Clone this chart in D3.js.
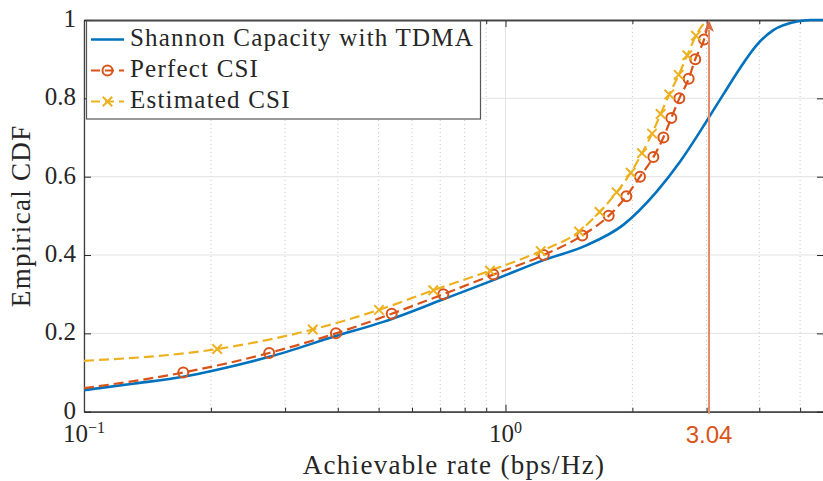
<!DOCTYPE html>
<html>
<head>
  <title>Empirical CDF of achievable rate</title>
<script type="text/javascript" src="https://d3js.org/d3.v7.min.js"></script>
<style>
  body { margin: 0; background: #fff; }
  text { font-family: "Liberation Serif", serif; fill: #262626; }
</style>
</head>
<body>
<div class="chart"></div>

<script type="text/javascript">

    // data
    const shannonRate = [0.1, 0.132, 0.172, 0.207, 0.275, 0.396, 0.515, 0.712, 0.936, 1.232, 1.55, 1.903, 2.284, 2.594, 2.893, 3.04, 3.287, 3.60, 3.944, 4.32, 4.91, 5.3, 5.7];
    const shannonCdf  = [0.055, 0.072, 0.089, 0.107, 0.140, 0.193, 0.230, 0.287, 0.336, 0.387, 0.424, 0.477, 0.562, 0.638, 0.715, 0.752, 0.810, 0.877, 0.936, 0.974, 0.996, 1.0, 1.0];

    const perfectRate = [0.1, 0.172, 0.275, 0.396, 0.537, 0.712, 0.936, 1.232, 1.521, 1.757, 1.935, 2.085, 2.243, 2.369, 2.474, 2.585, 2.72, 2.82, 2.958, 3.04];
    const perfectCdf  = [0.06, 0.10, 0.15, 0.20, 0.25, 0.30, 0.35, 0.40, 0.45, 0.50, 0.55, 0.60, 0.65, 0.70, 0.75, 0.80, 0.85, 0.90, 0.95, 1.0];

    const estimatedRate = [0.1, 0.207, 0.349, 0.501, 0.674, 0.919, 1.212, 1.494, 1.672, 1.835, 1.982, 2.108, 2.227, 2.334, 2.447, 2.576, 2.70, 2.83, 3.0];
    const estimatedCdf  = [0.13, 0.16, 0.21, 0.26, 0.31, 0.36, 0.41, 0.46, 0.51, 0.56, 0.61, 0.66, 0.71, 0.76, 0.81, 0.86, 0.91, 0.96, 1.0];

    const seriesNames = ["Shannon Capacity with TDMA", "Perfect CSI", "Estimated CSI"];
    const seriesColors = ["#0072BD", "#D95319", "#EDB120"];

    const xMajor = [0.1, 1];
    const xMinor = [0.2, 0.3, 0.4, 0.5, 0.6, 0.7, 0.8, 0.9, 2, 3, 4, 5];
    const yTicks = [0, 0.2, 0.4, 0.6, 0.8, 1];
    const markRate = 3.04;

    const W = 823, H = 481;
    const box = {left: 84, right: 824, top: 20, bottom: 411.7};

    const svg = d3.select(".chart").append("svg")
        .attr("width", W)
        .attr("height", H);

    const x = d3.scaleLog()
        .domain([0.1, Math.pow(10, (box.right - box.left) / 421.5 - 1)])
        .range([box.left, box.right]);

    const y = d3.scaleLinear()
        .domain([0, 1])
        .range([box.bottom, box.top]);

    // grid
    const grid = svg.append("g");
    grid.selectAll(".gx-minor").data(xMinor).enter().append("line")
        .attr("x1", d => x(d)).attr("x2", d => x(d))
        .attr("y1", box.top).attr("y2", box.bottom)
        .attr("stroke", "#c8c8c8").attr("stroke-dasharray", "1,3");
    grid.selectAll(".gx").data(xMajor).enter().append("line")
        .attr("x1", d => x(d)).attr("x2", d => x(d))
        .attr("y1", box.top).attr("y2", box.bottom)
        .attr("stroke", "#e3e3e3");
    grid.selectAll(".gy").data(yTicks).enter().append("line")
        .attr("x1", box.left).attr("x2", box.right)
        .attr("y1", d => y(d)).attr("y2", d => y(d))
        .attr("stroke", "#e3e3e3");

    // axes with inward ticks
    function tickAxis(axis, values, size, transform) {
        const g = svg.append("g")
            .attr("transform", transform)
            .call(axis.tickValues(values).tickSizeInner(-size).tickSizeOuter(0).tickFormat(""));
        g.select(".domain").attr("stroke", "#404040").attr("stroke-width", 1.3);
        g.selectAll(".tick line").attr("stroke", "#262626");
        return g;
    }
    tickAxis(d3.axisBottom(x), xMajor, 7, `translate(0,${box.bottom})`);
    tickAxis(d3.axisBottom(x), xMinor, 4, `translate(0,${box.bottom})`);
    tickAxis(d3.axisTop(x), xMajor, 7, `translate(0,${box.top})`);
    tickAxis(d3.axisTop(x), xMinor, 4, `translate(0,${box.top})`);
    tickAxis(d3.axisLeft(y), yTicks, 7, `translate(${box.left},0)`);
    tickAxis(d3.axisRight(y), yTicks, 7, `translate(${box.right},0)`);

    // tick labels
    svg.selectAll(".ylab").data(yTicks).enter().append("text")
        .attr("x", box.left - 8)
        .attr("y", d => y(d) + 7)
        .attr("text-anchor", "end")
        .style("font-size", "25px")
        .text(d => d);

    const xl = svg.selectAll(".xlab").data(xMajor).enter().append("text")
        .attr("x", d => x(d))
        .attr("y", 442)
        .attr("text-anchor", "middle")
        .style("font-size", "25px");
    xl.append("tspan").text("10");
    xl.append("tspan")
        .attr("dy", -9)
        .style("font-size", "16px")
        .text(d => d < 1 ? "\u22121" : "0");

    svg.append("text")
        .attr("x", 454)
        .attr("y", 474)
        .attr("text-anchor", "middle")
        .style("font-size", "27px")
        .style("letter-spacing", "1.3px")
        .text("Achievable rate (bps/Hz)");

    svg.append("text")
        .attr("transform", `translate(30,${(box.top + box.bottom) / 2}) rotate(-90)`)
        .attr("text-anchor", "middle")
        .style("font-size", "27px")
        .style("letter-spacing", "1.3px")
        .text("Empirical CDF");

    // curves
    const toPts = (xs, ys) => xs.map((v, i) => ({rate: v, cdf: ys[i]}));
    const shannon = toPts(shannonRate, shannonCdf);
    const perfect = toPts(perfectRate, perfectCdf);
    const estimated = toPts(estimatedRate, estimatedCdf);

    const line = d3.line()
        .x(d => x(d.rate))
        .y(d => y(d.cdf))
        .curve(d3.curveMonotoneX);

    const plot = svg.append("g");

    plot.append("path").datum(shannon)
        .attr("d", line)
        .attr("fill", "none")
        .attr("stroke", seriesColors[0])
        .attr("stroke-width", 2.6);

    plot.append("path").datum(perfect)
        .attr("d", line)
        .attr("fill", "none")
        .attr("stroke", seriesColors[1])
        .attr("stroke-width", 2.2)
        .attr("stroke-dasharray", "10,5");

    plot.append("path").datum(estimated)
        .attr("d", line)
        .attr("fill", "none")
        .attr("stroke", seriesColors[2])
        .attr("stroke-width", 2.2)
        .attr("stroke-dasharray", "10,5");

    plot.selectAll(".circ").data(perfect.slice(1, -1)).enter().append("circle")
        .attr("cx", d => x(d.rate))
        .attr("cy", d => y(d.cdf))
        .attr("r", 5)
        .attr("fill", "none")
        .attr("stroke", seriesColors[1])
        .attr("stroke-width", 2);

    const cross = d3.symbol().type(d3.symbolX).size(60);
    plot.selectAll(".cross").data(estimated.slice(1, -1)).enter().append("path")
        .attr("transform", d => `translate(${x(d.rate)},${y(d.cdf)})`)
        .attr("d", cross)
        .attr("fill", "none")
        .attr("stroke", seriesColors[2])
        .attr("stroke-width", 2);

    // 3.04 marker arrow
    const ax = x(markRate);
    svg.append("line")
        .attr("x1", ax).attr("x2", ax)
        .attr("y1", box.bottom + 2).attr("y2", box.top + 10)
        .attr("stroke", "#E58B68")
        .attr("stroke-width", 2);
    svg.append("path")
        .attr("d", `M${ax},${box.top} L${ax - 5},${box.top + 12} L${ax},${box.top + 9} L${ax + 5},${box.top + 12} Z`)
        .attr("fill", "#DE6C42");
    svg.append("text")
        .attr("x", ax)
        .attr("y", 443)
        .attr("text-anchor", "middle")
        .style("font-family", "'Liberation Sans', Arial, sans-serif")
        .style("font-size", "24px")
        .style("fill", "#D95319")
        .text(markRate.toFixed(2));

    // legend
    const legend = svg.append("g");
    legend.append("rect")
        .attr("x", 86.5).attr("y", 21)
        .attr("width", 394).attr("height", 98)
        .attr("fill", "#fff")
        .attr("stroke", "#555")
        .attr("stroke-width", 1.2);

    const rows = legend.selectAll(".row").data(seriesNames).enter().append("g")
        .attr("transform", (d, i) => `translate(0,${39.5 + i * 31})`);
    rows.append("line")
        .attr("x1", 91).attr("x2", 124)
        .attr("stroke", (d, i) => seriesColors[i])
        .attr("stroke-width", (d, i) => i == 0 ? 2.6 : 2.2)
        .attr("stroke-dasharray", (d, i) => i == 0 ? null : "9,5");
    rows.filter((d, i) => i == 1).append("circle")
        .attr("cx", 107.5).attr("r", 5)
        .attr("fill", "none").attr("stroke", seriesColors[1]).attr("stroke-width", 2);
    rows.filter((d, i) => i == 2).append("path")
        .attr("transform", "translate(107.5,0)")
        .attr("d", cross)
        .attr("fill", "none").attr("stroke", seriesColors[2]).attr("stroke-width", 2);
    rows.append("text")
        .attr("x", 130)
        .attr("y", 6)
        .style("font-size", "25px")
        .style("letter-spacing", "1.2px")
        .text(d => d);

</script>
</body>
</html>
